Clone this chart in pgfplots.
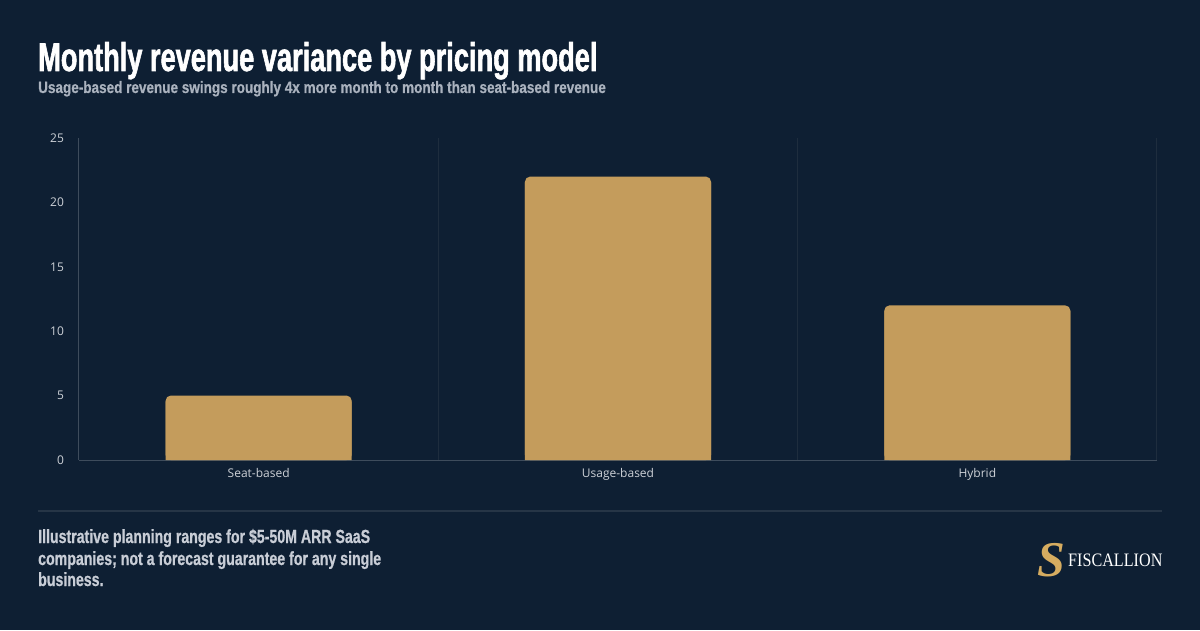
\documentclass[border=0pt]{standalone}
\usepackage{fontspec}
\usepackage{pgfplots}
\pgfplotsset{compat=1.18}
\usepackage{pgfplotstable}
\usetikzlibrary{backgrounds}

\setmainfont{Open Sans}
\newfontfamily\headfont{Liberation Sans}[FakeStretch=0.68, FakeBold=1.4]
\newfontfamily\subfont{Liberation Sans}[FakeStretch=0.82, FakeBold=0.6]
\newfontfamily\footfont{Liberation Sans}[FakeStretch=0.745, FakeBold=0.7]
\newfontfamily\logofont{Liberation Serif}[FakeStretch=0.85]
\newfontfamily\markfont{Liberation Serif}

\definecolor{bg}{RGB}{14,31,51}
\definecolor{gold}{RGB}{196,156,92}
\definecolor{logogold}{RGB}{214,172,96}
\definecolor{axisgray}{RGB}{62,76,92}
\definecolor{gridgray}{RGB}{30,45,62}
\definecolor{ticktext}{RGB}{205,209,215}
\definecolor{subtext}{RGB}{170,178,190}
\definecolor{foottext}{RGB}{200,205,214}
\definecolor{rulegray}{RGB}{38,53,70}

% month-to-month revenue variance (%) by pricing model
\pgfplotstableread{
idx value
0   5
1   22
2   12
}\variance

\begin{document}
\begin{tikzpicture}
  \begin{axis}[
    width=1078pt, height=322pt, scale only axis,
    xmin=-0.5, xmax=2.5, ymin=0, ymax=25,
    xtick={0,1,2},
    xticklabels={Seat-based,Usage-based,Hybrid},
    ytick={0,5,...,25},
    minor xtick={-0.5,0.5,1.5,2.5},
    xminorgrids,
    minor x grid style={gridgray, line width=1pt},
    axis x line*=bottom, axis y line*=left,
    axis line style={axisgray, line width=1pt, -},
    major tick length=0pt, minor tick length=0pt,
    tick label style={font=\fontsize{12}{14}\selectfont, text=ticktext},
    /pgf/number format/assume math mode=true,
    yticklabel style={xshift=-11.5pt},
    xticklabel style={yshift=-5pt},
  ]
    \coordinate (o) at (rel axis cs:0,0);
    % square body up to just below the corner radius, drawn first;
    % the rounded bar on top gives the rounded top corners
    \addplot[ybar, bar width=186pt, bar shift=0pt, fill=gold, draw=none,
             y filter/.expression={y-0.45}]
      table[x=idx, y=value] {\variance};
    \addplot[ybar, bar width=186pt, bar shift=0pt, fill=gold, draw=none,
             rounded corners=5pt]
      table[x=idx, y=value] {\variance};
  \end{axis}

  % page frame, laid out in pixel-like points from the lower left corner
  \begin{scope}[shift={(o)}, xshift=-79pt, yshift=-170pt, x=1pt, y=1pt]
    \begin{scope}[on background layer]
      \fill[bg] (0,0) rectangle (1200,630);
    \end{scope}

    % headings
    \node[anchor=base west, inner sep=0, text=white,
          font=\headfont\bfseries\fontsize{40}{44}\selectfont]
      at (38,559) {Monthly revenue variance by pricing model};
    \node[anchor=base west, inner sep=0, text=subtext,
          font=\subfont\bfseries\fontsize{16.5}{18}\selectfont]
      at (38,537) {Usage-based revenue swings roughly 4x more month to month than seat-based revenue};

    % footer
    \draw[rulegray, line width=1.5pt] (38,119) -- (1162,119);
    \begin{scope}[every node/.style={anchor=base west, inner sep=0, text=foottext,
          font=\footfont\bfseries\fontsize{19}{22}\selectfont}]
      \node at (38,87) {Illustrative planning ranges for \$5-50M ARR SaaS};
      \node at (38,65) {companies; not a forecast guarantee for any single};
      \node at (38,44) {business.};
    \end{scope}

    % brand mark
    \node[anchor=center, inner sep=0, text=logogold,
          font=\markfont\bfseries\itshape\fontsize{50}{50}\selectfont]
      at (1051,70) {S};
    \node[anchor=base west, inner sep=0, text=white,
          font=\logofont\fontsize{19}{19}\selectfont]
      at (1068,64) {FISCALLION};
  \end{scope}
\end{tikzpicture}
\end{document}
